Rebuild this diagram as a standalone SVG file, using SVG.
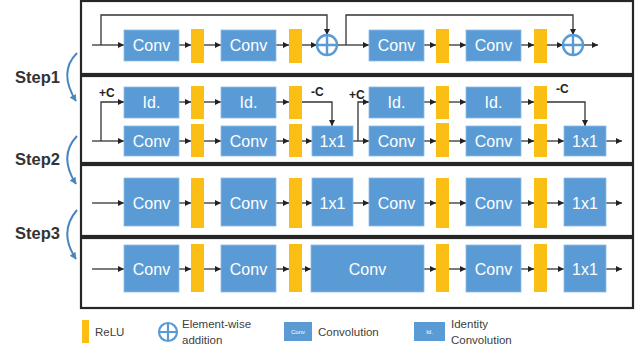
<svg xmlns="http://www.w3.org/2000/svg" width="637" height="354" viewBox="0 0 637 354">
<style>
.panel{fill:#fff;stroke:#262626;stroke-width:2.2}
.b{fill:#5B9BD5;stroke:#8FBBE6;stroke-width:0.8}
.r{fill:#FBBE14}
.t{fill:#fff;font-family:"Liberation Sans",Arial,sans-serif;font-size:16px;text-anchor:middle;dominant-baseline:central}
.c{fill:none;stroke:#333;stroke-width:1.3}
.ca{fill:none;stroke:#333;stroke-width:1.3;marker-end:url(#ah)}
.lab{fill:#222;font-family:"Liberation Sans",Arial,sans-serif;font-size:12px;font-weight:bold}
.step{fill:#333;font-family:"Liberation Sans",Arial,sans-serif;font-size:16.5px;font-weight:bold}
.leg{fill:#404040;font-family:"Liberation Sans",Arial,sans-serif;font-size:11.5px}
.plus{fill:#fff;stroke:#5B9BD5;stroke-width:2.4}
.curve{fill:none;stroke:#4A86BE;stroke-width:2;marker-end:url(#bh)}
</style>
<defs>
<marker id="ah" viewBox="0 0 10 10" refX="10" refY="5" markerWidth="7" markerHeight="6" markerUnits="userSpaceOnUse" orient="auto"><path d="M0,0 L10,5 L0,10 z" fill="#222"/></marker>
<marker id="bh" viewBox="0 0 10 10" refX="9" refY="5" markerWidth="7" markerHeight="7" markerUnits="userSpaceOnUse" orient="auto"><path d="M0,0 L10,5 L0,10 z" fill="#4A86BE"/></marker>
<g id="plusSym"><circle class="plus" cx="0" cy="0" r="10"/><path d="M-10,0 H10 M0,-10 V10" stroke="#5B9BD5" stroke-width="2.4"/></g>
</defs>

<!-- panels -->
<g id="panels">
<rect class="panel" x="81" y="1" width="552" height="73"/>
<rect class="panel" x="81" y="76" width="552" height="87"/>
<rect class="panel" x="81" y="165" width="552" height="71"/>
<rect class="panel" x="81" y="238" width="552" height="70"/>
</g>

<!-- step labels and curved arrows -->
<g id="steps">
<text class="step" x="15" y="83">Step1</text>
<text class="step" x="15" y="165">Step2</text>
<text class="step" x="15" y="239">Step3</text>
<path class="curve" d="M77,53 Q58,72 76,101"/>
<path class="curve" d="M77,136 Q58,156 76,184"/>
<path class="curve" d="M77,210 Q58,232 76,259"/>
</g>

<!-- connectors -->
<g id="connectors">
<!-- row 1 -->
<path class="ca" d="M92,45 H124"/>
<path class="ca" d="M179,45 H191"/>
<path class="ca" d="M204,45 H221"/>
<path class="ca" d="M276,45 H289"/>
<path class="ca" d="M302,45 H317"/>
<path class="ca" d="M101,45 V15 H327 V35"/>
<path class="ca" d="M337,45 H369"/>
<path class="ca" d="M424,45 H436"/>
<path class="ca" d="M449,45 H466"/>
<path class="ca" d="M521,45 H534"/>
<path class="ca" d="M547,45 H563"/>
<path class="ca" d="M346,45 V15 H573 V35"/>
<path class="ca" d="M583,45 H598"/>
<!-- row 2 -->
<path class="ca" d="M92,141 H124"/>
<path class="ca" d="M101,141 V102 H124"/>
<path class="ca" d="M179,102 H191"/>
<path class="ca" d="M204,102 H221"/>
<path class="ca" d="M276,102 H289"/>
<path class="ca" d="M302,102 H332 V126"/>
<path class="ca" d="M179,141 H191"/>
<path class="ca" d="M204,141 H221"/>
<path class="ca" d="M276,141 H289"/>
<path class="ca" d="M302,141 H312"/>
<path class="ca" d="M353,141 H369"/>
<path class="ca" d="M358,141 V102 H369"/>
<path class="ca" d="M424,102 H436"/>
<path class="ca" d="M449,102 H466"/>
<path class="ca" d="M521,102 H534"/>
<path class="ca" d="M547,102 H585 V126"/>
<path class="ca" d="M424,141 H436"/>
<path class="ca" d="M449,141 H466"/>
<path class="ca" d="M521,141 H534"/>
<path class="ca" d="M547,141 H564"/>
<path class="ca" d="M606,141 H622"/>
<!-- row 3 -->
<path class="ca" d="M92,203 H124"/>
<path class="ca" d="M179,203 H191"/>
<path class="ca" d="M204,203 H221"/>
<path class="ca" d="M276,203 H289"/>
<path class="ca" d="M302,203 H312"/>
<path class="ca" d="M353,203 H369"/>
<path class="ca" d="M424,203 H436"/>
<path class="ca" d="M449,203 H466"/>
<path class="ca" d="M521,203 H534"/>
<path class="ca" d="M547,203 H564"/>
<path class="ca" d="M606,203 H622"/>
<!-- row 4 -->
<path class="ca" d="M92,269 H124"/>
<path class="ca" d="M179,269 H191"/>
<path class="ca" d="M204,269 H221"/>
<path class="ca" d="M276,269 H289"/>
<path class="ca" d="M302,269 H311"/>
<path class="ca" d="M424,269 H436"/>
<path class="ca" d="M449,269 H466"/>
<path class="ca" d="M521,269 H534"/>
<path class="ca" d="M547,269 H564"/>
<path class="ca" d="M606,269 H622"/>
</g>

<!-- row 1 nodes -->
<g id="r1-conv1"><rect class="b" x="124" y="30" width="55" height="31"/><text class="t" x="151.5" y="45.5">Conv</text></g>
<g id="r1-relu1"><rect class="r" x="191" y="29" width="13" height="34"/></g>
<g id="r1-conv2"><rect class="b" x="221" y="30" width="55" height="31"/><text class="t" x="248.5" y="45.5">Conv</text></g>
<g id="r1-relu2"><rect class="r" x="289" y="29" width="13" height="34"/></g>
<g id="r1-add1"><use href="#plusSym" x="327" y="45"/></g>
<g id="r1-conv3"><rect class="b" x="369" y="30" width="55" height="31"/><text class="t" x="396.5" y="45.5">Conv</text></g>
<g id="r1-relu3"><rect class="r" x="436" y="29" width="13" height="34"/></g>
<g id="r1-conv4"><rect class="b" x="466" y="30" width="55" height="31"/><text class="t" x="493.5" y="45.5">Conv</text></g>
<g id="r1-relu4"><rect class="r" x="534" y="29" width="13" height="34"/></g>
<g id="r1-add2"><use href="#plusSym" x="573" y="45"/></g>

<!-- row 2 nodes -->
<g id="r2-labels">
<text class="lab" x="99" y="97">+C</text>
<text class="lab" x="311" y="96">-C</text>
<text class="lab" x="349" y="99">+C</text>
<text class="lab" x="556" y="93">-C</text>
</g>
<g id="r2-id1"><rect class="b" x="124" y="87" width="55" height="31"/><text class="t" x="151.5" y="102.5">Id.</text></g>
<g id="r2-idrelu1"><rect class="r" x="191" y="86" width="13" height="33"/></g>
<g id="r2-id2"><rect class="b" x="221" y="87" width="55" height="31"/><text class="t" x="248.5" y="102.5">Id.</text></g>
<g id="r2-idrelu2"><rect class="r" x="289" y="86" width="13" height="33"/></g>
<g id="r2-conv1"><rect class="b" x="124" y="126" width="55" height="30"/><text class="t" x="151.5" y="141">Conv</text></g>
<g id="r2-relu1"><rect class="r" x="191" y="124" width="13" height="33"/></g>
<g id="r2-conv2"><rect class="b" x="221" y="126" width="55" height="30"/><text class="t" x="248.5" y="141">Conv</text></g>
<g id="r2-relu2"><rect class="r" x="289" y="124" width="13" height="33"/></g>
<g id="r2-1x1a"><rect class="b" x="312" y="126" width="41" height="30"/><text class="t" x="332.5" y="141">1x1</text></g>
<g id="r2-id3"><rect class="b" x="369" y="87" width="55" height="31"/><text class="t" x="396.5" y="102.5">Id.</text></g>
<g id="r2-idrelu3"><rect class="r" x="436" y="86" width="13" height="33"/></g>
<g id="r2-id4"><rect class="b" x="466" y="87" width="55" height="31"/><text class="t" x="493.5" y="102.5">Id.</text></g>
<g id="r2-idrelu4"><rect class="r" x="534" y="86" width="13" height="33"/></g>
<g id="r2-conv3"><rect class="b" x="369" y="126" width="55" height="30"/><text class="t" x="396.5" y="141">Conv</text></g>
<g id="r2-relu3"><rect class="r" x="436" y="123" width="13" height="34"/></g>
<g id="r2-conv4"><rect class="b" x="466" y="126" width="55" height="30"/><text class="t" x="493.5" y="141">Conv</text></g>
<g id="r2-relu4"><rect class="r" x="534" y="124" width="13" height="33"/></g>
<g id="r2-1x1b"><rect class="b" x="564" y="126" width="42" height="30"/><text class="t" x="585" y="141">1x1</text></g>

<!-- row 3 nodes -->
<g id="r3-conv1"><rect class="b" x="124" y="178" width="55" height="48"/><text class="t" x="151.5" y="203">Conv</text></g>
<g id="r3-relu1"><rect class="r" x="191" y="178" width="13" height="50"/></g>
<g id="r3-conv2"><rect class="b" x="221" y="178" width="55" height="48"/><text class="t" x="248.5" y="203">Conv</text></g>
<g id="r3-relu2"><rect class="r" x="289" y="178" width="13" height="50"/></g>
<g id="r3-1x1a"><rect class="b" x="312" y="178" width="41" height="48"/><text class="t" x="332.5" y="203">1x1</text></g>
<g id="r3-conv3"><rect class="b" x="369" y="178" width="55" height="48"/><text class="t" x="396.5" y="203">Conv</text></g>
<g id="r3-relu3"><rect class="r" x="436" y="178" width="13" height="50"/></g>
<g id="r3-conv4"><rect class="b" x="466" y="178" width="55" height="48"/><text class="t" x="493.5" y="203">Conv</text></g>
<g id="r3-relu4"><rect class="r" x="534" y="178" width="13" height="50"/></g>
<g id="r3-1x1b"><rect class="b" x="564" y="178" width="42" height="48"/><text class="t" x="585" y="203">1x1</text></g>

<!-- row 4 nodes -->
<g id="r4-conv1"><rect class="b" x="124" y="245" width="55" height="47"/><text class="t" x="151.5" y="269">Conv</text></g>
<g id="r4-relu1"><rect class="r" x="191" y="244" width="13" height="48"/></g>
<g id="r4-conv2"><rect class="b" x="221" y="245" width="55" height="47"/><text class="t" x="248.5" y="269">Conv</text></g>
<g id="r4-relu2"><rect class="r" x="289" y="244" width="13" height="48"/></g>
<g id="r4-conv3"><rect class="b" x="311" y="245" width="113" height="47"/><text class="t" x="367.5" y="269">Conv</text></g>
<g id="r4-relu3"><rect class="r" x="436" y="244" width="13" height="48"/></g>
<g id="r4-conv4"><rect class="b" x="466" y="245" width="55" height="47"/><text class="t" x="493.5" y="269">Conv</text></g>
<g id="r4-relu4"><rect class="r" x="534" y="244" width="13" height="48"/></g>
<g id="r4-1x1"><rect class="b" x="564" y="245" width="42" height="47"/><text class="t" x="585" y="269">1x1</text></g>

<!-- legend -->
<g id="legend">
<rect class="r" x="82" y="320" width="7" height="23"/>
<text class="leg" x="95" y="336">ReLU</text>
<use href="#plusSym" transform="translate(168 332) scale(0.9)"/>
<text class="leg" x="182" y="328">Element-wise</text>
<text class="leg" x="182" y="344">addition</text>
<rect fill="#5B9BD5" x="284" y="322" width="28" height="19"/>
<text x="298" y="332" fill="#fff" font-family="Liberation Sans,Arial,sans-serif" font-size="6" text-anchor="middle" dominant-baseline="central">Conv</text>
<text class="leg" x="318" y="336">Convolution</text>
<rect fill="#5B9BD5" x="414" y="322" width="31" height="19"/>
<text x="429.5" y="332" fill="#fff" font-family="Liberation Sans,Arial,sans-serif" font-size="6" text-anchor="middle" dominant-baseline="central">Id.</text>
<text class="leg" x="451" y="328">Identity</text>
<text class="leg" x="451" y="344">Convolution</text>
</g>
</svg>
